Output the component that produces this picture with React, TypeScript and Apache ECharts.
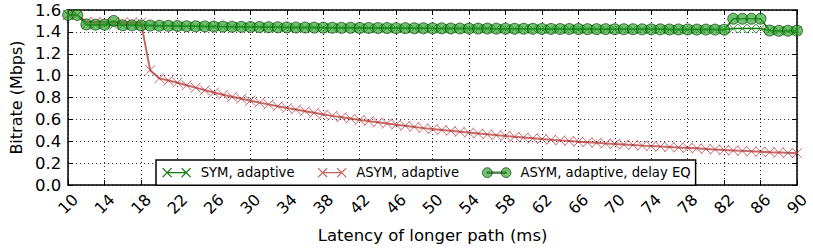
import React, { useEffect, useRef } from "react";
import * as echarts from "echarts";

const latency = [
  10, 11, 12, 13, 14, 15, 16, 17, 18, 19,
  20, 21, 22, 23, 24, 25, 26, 27, 28, 29,
  30, 31, 32, 33, 34, 35, 36, 37, 38, 39,
  40, 41, 42, 43, 44, 45, 46, 47, 48, 49,
  50, 51, 52, 53, 54, 55, 56, 57, 58, 59,
  60, 61, 62, 63, 64, 65, 66, 67, 68, 69,
  70, 71, 72, 73, 74, 75, 76, 77, 78, 79,
  80, 81, 82, 83, 84, 85, 86, 87, 88, 89, 90,
];

const symAdaptive = [
  1.555, 1.555, 1.465, 1.465, 1.465, 1.462, 1.46, 1.46, 1.46, 1.458,
  1.456, 1.455, 1.453, 1.452, 1.451, 1.45, 1.449, 1.448, 1.447, 1.446,
  1.445, 1.444, 1.443, 1.442, 1.441, 1.44, 1.44, 1.439, 1.438, 1.438,
  1.437, 1.437, 1.436, 1.436, 1.435, 1.435, 1.434, 1.434, 1.433, 1.433,
  1.432, 1.432, 1.431, 1.431, 1.43, 1.43, 1.43, 1.429, 1.429, 1.428,
  1.428, 1.428, 1.427, 1.427, 1.426, 1.426, 1.426, 1.425, 1.425, 1.425,
  1.424, 1.424, 1.424, 1.423, 1.423, 1.423, 1.422, 1.422, 1.422, 1.421,
  1.421, 1.421, 1.42, 1.43, 1.43, 1.43, 1.43, 1.412, 1.41, 1.41, 1.412,
];

const asymAdaptive = [
  1.555, 1.555, 1.49, 1.488, 1.487, 1.487, 1.486, 1.486, 1.485, 1.05,
  0.975, 0.955, 0.935, 0.912, 0.89, 0.866, 0.845, 0.826, 0.807, 0.789,
  0.771, 0.753, 0.737, 0.72, 0.704, 0.69, 0.675, 0.66, 0.645, 0.632,
  0.62, 0.607, 0.595, 0.584, 0.573, 0.562, 0.551, 0.541, 0.531, 0.52,
  0.511, 0.503, 0.495, 0.487, 0.479, 0.471, 0.463, 0.456, 0.448, 0.441,
  0.434, 0.427, 0.42, 0.414, 0.408, 0.402, 0.396, 0.391, 0.386, 0.38,
  0.375, 0.37, 0.365, 0.36, 0.356, 0.351, 0.347, 0.343, 0.339, 0.335,
  0.33, 0.325, 0.32, 0.316, 0.312, 0.308, 0.304, 0.3, 0.297, 0.294, 0.291,
];

const asymDelayEq = [
  1.555, 1.555, 1.468, 1.466, 1.465, 1.5, 1.46, 1.46, 1.459, 1.458,
  1.456, 1.455, 1.454, 1.452, 1.451, 1.45, 1.449, 1.448, 1.447, 1.446,
  1.445, 1.444, 1.443, 1.442, 1.441, 1.44, 1.44, 1.439, 1.438, 1.438,
  1.437, 1.437, 1.436, 1.436, 1.435, 1.435, 1.434, 1.434, 1.433, 1.433,
  1.432, 1.432, 1.431, 1.431, 1.43, 1.43, 1.43, 1.429, 1.429, 1.428,
  1.428, 1.428, 1.427, 1.427, 1.426, 1.426, 1.426, 1.425, 1.425, 1.425,
  1.424, 1.424, 1.424, 1.423, 1.423, 1.423, 1.422, 1.422, 1.422, 1.421,
  1.421, 1.421, 1.42, 1.52, 1.52, 1.52, 1.52, 1.412, 1.41, 1.41, 1.412,
];

const yTicks = { min: 0, max: 1.6, interval: 0.2 };

const FONT = "DejaVu Sans";
const GREEN_LINE = "#137a13";
const GREEN_X = "#2a8f2a";
const RED_LINE = "rgba(170,40,40,0.7)";
const RED_X = "rgba(190,50,50,0.75)";
const CIRCLE_FILL = "rgba(40,160,40,0.65)";
const CIRCLE_EDGE = "rgba(0,60,0,0.85)";

const X_SYMBOL = "path://M0,0L10,10M10,0L0,10";

// legend icons (bbox 0..33 x 0..12)
const BOX = "M0,0L0.001,0M33,12L32.999,12";
const xIcon =
  "path://" +
  BOX +
  "M0,1.5L9,10.5M9,1.5L0,10.5M4.5,6L23.5,6M19,1.5L28,10.5M28,1.5L19,10.5";
const circleIcon =
  "path://" +
  BOX +
  "M4.5,5.3L23.5,5.3L23.5,6.7L4.5,6.7Z" +
  "M-0.5,6A5,5 0 1,1 9.5,6A5,5 0 1,1 -0.5,6Z" +
  "M18.5,6A5,5 0 1,1 28.5,6A5,5 0 1,1 18.5,6Z";

export default function App() {
  const ref = useRef<HTMLDivElement>(null);

  useEffect(() => {
    document.body.style.margin = "0";
    if (!ref.current) return;
    const chart = echarts.init(ref.current, undefined, { renderer: "svg" });

    const gridSplit = {
      show: true,
      interval: 3,
      lineStyle: { color: "#222", width: 1, type: [1, 3] as any },
    };

    chart.setOption({
      animation: false,
      backgroundColor: "#fff",
      textStyle: { fontFamily: FONT },
      grid: { left: 59, right: 16, top: 10, bottom: 60 },
      legend: {
        left: 156,
        top: 160,
        orient: "horizontal",
        padding: [6, 5, 6, 6],
        itemWidth: 33,
        itemHeight: 12,
        itemGap: 23,
        borderColor: "#000",
        borderWidth: 1.5,
        borderRadius: 0,
        backgroundColor: "#fff",
        selectedMode: false,
        textStyle: { fontFamily: FONT, fontSize: 13.2, color: "#000" },
        data: [
          {
            name: "SYM, adaptive",
            icon: xIcon,
            itemStyle: { color: "transparent", borderColor: GREEN_LINE, borderWidth: 1.3 },
          },
          {
            name: "ASYM, adaptive",
            icon: xIcon,
            itemStyle: { color: "transparent", borderColor: "rgba(190,60,60,0.8)", borderWidth: 1.3 },
          },
          {
            name: "ASYM, adaptive, delay EQ",
            icon: circleIcon,
            itemStyle: { color: CIRCLE_FILL, borderColor: CIRCLE_EDGE, borderWidth: 0.8 },
          },
        ],
      },
      xAxis: [
        {
          type: "category",
          data: latency,
          boundaryGap: false,
          position: "bottom",
          name: "Latency of longer path (ms)",
          nameLocation: "middle",
          nameGap: 42,
          nameTextStyle: { fontFamily: FONT, fontSize: 16.5, color: "#000" },
          axisLine: { show: true, onZero: false, lineStyle: { color: "#000", width: 1.5 } },
          axisTick: { show: true, inside: true, interval: 3, length: 5, lineStyle: { color: "#000", width: 1 } },
          axisLabel: {
            show: true,
            interval: 3,
            rotate: 45,
            align: "center",
            verticalAlign: "middle",
            margin: 19,
            fontFamily: FONT,
            fontSize: 16,
            color: "#000",
          },
          splitLine: gridSplit,
        },
        {
          type: "category",
          data: latency,
          boundaryGap: false,
          position: "top",
          axisLine: { show: true, onZero: false, lineStyle: { color: "#000", width: 1.5 } },
          axisTick: { show: true, inside: true, interval: 3, length: 5, lineStyle: { color: "#000", width: 1 } },
          axisLabel: { show: false },
          splitLine: { show: false },
        },
      ],
      yAxis: [
        {
          type: "value",
          ...yTicks,
          position: "left",
          name: "Bitrate (Mbps)",
          nameLocation: "middle",
          nameGap: 40,
          nameTextStyle: { fontFamily: FONT, fontSize: 16, color: "#000" },
          axisLine: { show: true, onZero: false, lineStyle: { color: "#000", width: 1.5 } },
          axisTick: { show: true, inside: true, length: 5, lineStyle: { color: "#000", width: 1 } },
          axisLabel: {
            margin: 7,
            fontFamily: FONT,
            fontSize: 16.5,
            color: "#000",
            formatter: (v: number) => v.toFixed(1),
          },
          splitLine: { show: true, lineStyle: { color: "#222", width: 1, type: [1, 3] as any } },
        },
        {
          type: "value",
          ...yTicks,
          position: "right",
          axisLine: { show: true, onZero: false, lineStyle: { color: "#000", width: 1.5 } },
          axisTick: { show: true, inside: true, length: 5, lineStyle: { color: "#000", width: 1 } },
          axisLabel: { show: false },
          splitLine: { show: false },
        },
      ],
      series: [
        {
          name: "SYM, adaptive",
          type: "line",
          data: symAdaptive,
          symbol: X_SYMBOL,
          symbolSize: 9,
          showAllSymbol: true,
          lineStyle: { color: GREEN_LINE, width: 1.5 },
          itemStyle: { color: "transparent", borderColor: GREEN_X, borderWidth: 1 },
          emphasis: { disabled: true },
          z: 2,
        },
        {
          name: "ASYM, adaptive",
          type: "line",
          data: asymAdaptive,
          symbol: X_SYMBOL,
          symbolSize: 10,
          showAllSymbol: true,
          lineStyle: { color: RED_LINE, width: 2 },
          itemStyle: { color: "transparent", borderColor: RED_X, borderWidth: 1 },
          emphasis: { disabled: true },
          z: 3,
        },
        {
          name: "ASYM, adaptive, delay EQ",
          type: "line",
          data: asymDelayEq,
          symbol: "circle",
          symbolSize: 11,
          showAllSymbol: true,
          lineStyle: { color: GREEN_LINE, width: 1.5 },
          itemStyle: { color: CIRCLE_FILL, borderColor: CIRCLE_EDGE, borderWidth: 0.8 },
          emphasis: { disabled: true },
          z: 4,
        },
      ],
    });

    return () => chart.dispose();
  }, []);

  return <div ref={ref} style={{ width: 813, height: 249 }} />;
}
